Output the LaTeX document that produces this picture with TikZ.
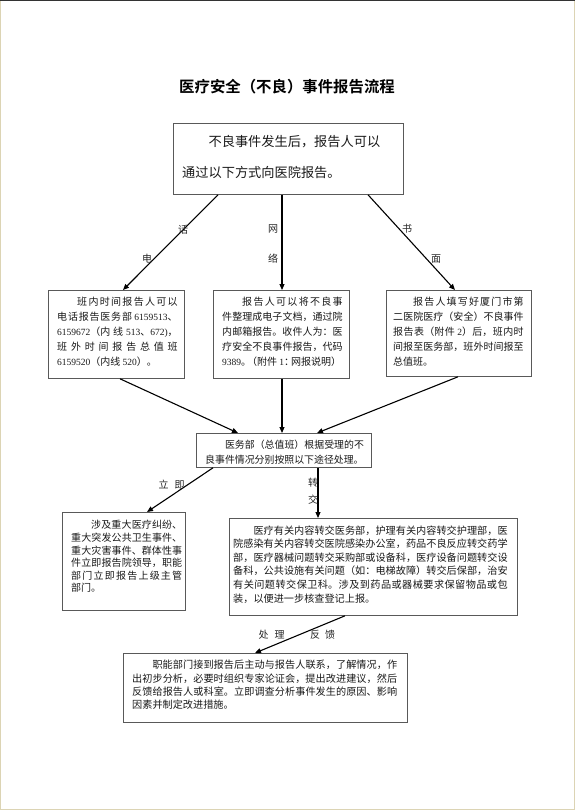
\documentclass[tikz,border=0pt]{standalone}
\usepackage{fontspec}
\setmainfont{Noto Sans CJK SC}[BoldFont={Noto Sans CJK SC Bold}]
\newfontfamily\lat{Liberation Serif}[Scale=0.95]
\XeTeXlinebreaklocale "zh"
\XeTeXlinebreakskip=0pt plus 5pt minus 0.3pt
\usetikzlibrary{arrows.meta,calc}
\newcommand{\nm}[1]{{\lat #1}}
\setlength{\parindent}{0pt}
\tolerance=10000
\hbadness=10000
\definecolor{pageframe}{RGB}{220,212,180}
\tikzset{
  box/.style={draw=black!65, line width=0.8pt, inner sep=0pt, anchor=north west},
  txt/.style={inner sep=0pt, anchor=north west, align=justify, text=black!90},
  arr/.style={line width=1.1pt, -{Triangle[length=6pt,width=5pt]}},
  lbl/.style={inner sep=0pt, font=\fontsize{10}{10}\selectfont, text=black!85},
}
\begin{document}
\begin{tikzpicture}[x=1pt,y=-1pt]
\useasboundingbox (0,0) rectangle (575,810);
\fill[white] (0,0) rectangle (575,810);
\draw[pageframe, line width=1pt] (0.5,0.5) rectangle (574.5,809.5);
\draw[black!80, line width=1pt] (0,1) -- (575,1);

\node[font=\fontsize{15.4}{16}\selectfont\bfseries] (title) at (287,87) {医疗安全（不良）事件报告流程};

% boxes
\node[box, minimum width=230pt, minimum height=71pt] (b1) at (173,123) {};
\node[box, minimum width=136pt, minimum height=88pt] (b2) at (48,290) {};
\node[box, minimum width=136pt, minimum height=88pt] (b3) at (213,290) {};
\node[box, minimum width=145pt, minimum height=86pt] (b4) at (386,290) {};
\node[box, minimum width=175pt, minimum height=34pt] (b5) at (196,433) {};
\node[box, minimum width=123pt, minimum height=98pt] (b6) at (62,512) {};
\node[box, minimum width=288pt, minimum height=97pt] (b7) at (229,518) {};
\node[box, minimum width=284pt, minimum height=69pt] (b8) at (123,653) {};

% texts
\node[txt, align=left, text width=220pt, font=\fontsize{13.2}{31}\selectfont] (t1) at (182,134.8)
  {\hspace*{2em}不良事件发生后，报告人可以\\通过以下方式向医院报告。};

\node[txt, text width=120.5pt, font=\fontsize{10}{15}\selectfont] (t2) at (57,297.3)
  {\hspace*{2em}班内时间报告人可以\linebreak 电话报告医务部 \nm{6159513}、\linebreak \nm{6159672}（内线 \nm{513}、\nm{672)}，\linebreak 班外时间报告总值班\linebreak \mbox{\nm{6159520}（内线 \nm{520}）。}};

\node[txt, text width=120.5pt, font=\fontsize{10}{15}\selectfont] (t3) at (222,297.3)
  {\hspace*{2em}报告人可以将不良事\linebreak 件整理成电子文档，通过院\linebreak 内邮箱报告。收件人为：医\linebreak 疗安全不良事件报告，代码\linebreak \mbox{\nm{9389}。\kern-4pt（附件 \nm{1}：\kern-3pt网报说明）}};

\node[txt, text width=130.5pt, font=\fontsize{10}{15}\selectfont] (t4) at (393,297.3)
  {\hspace*{2em}报告人填写好厦门市第\linebreak 二医院医疗（安全）不良事件\linebreak 报告表（附件 \nm{2}）后，班内时\linebreak 间报至医务部，班外时间报至\linebreak 总值班。};

\node[txt, text width=158.8pt, font=\fontsize{9.9}{15}\selectfont] (t5) at (205,440.3)
  {\hspace*{2em}医务部（总值班）根据受理的不\linebreak 良事件情况分别按照以下途径处理。};

\node[txt, text width=111pt, font=\fontsize{10}{12.6}\selectfont] (t6) at (71,520.3)
  {\hspace*{2em}涉及重大医疗纠纷、\linebreak 重大突发公共卫生事件、\linebreak 重大灾害事件、群体性事\linebreak 件立即报告院领导，职能\linebreak 部门立即报告上级主管\linebreak 部门。};

\node[txt, text width=274.5pt, font=\fontsize{10.15}{13.6}\selectfont] (t7) at (233,525.3)
  {\hspace*{2em}医疗有关内容转交医务部，护理有关内容转交护理部，医\linebreak 院感染有关内容转交医院感染办公室，药品不良反应转交药学\linebreak 部，医疗器械问题转交采购部或设备科，医疗设备问题转交设\linebreak 备科，公共设施有关问题（如：电梯故障）转交后保部，治安\linebreak 有关问题转交保卫科。涉及到药品或器械要求保留物品或包\linebreak 装，以便进一步核查登记上报。};

\node[txt, text width=265pt, font=\fontsize{10.15}{13.3}\selectfont] (t8) at (132,660.2)
  {\hspace*{2em}职能部门接到报告后主动与报告人联系，了解情况，作\linebreak 出初步分析，必要时组织专家论证会，提出改进建议，然后\linebreak 反馈给报告人或科室。立即调查分析事件发生的原因、影响\linebreak 因素并制定改进措施。};

% connectors
\draw[arr] ([xshift=45pt]b1.south west) -- ([xshift=75pt]b2.north west);
\draw[arr] ([xshift=109pt]b1.south west) -- ([xshift=69pt]b3.north west);
\draw[arr] ([xshift=195pt]b1.south west) -- ([xshift=69pt]b4.north west);
\draw[arr] ([xshift=72pt]b2.south west) -- ([xshift=42pt]b5.north west);
\draw[arr] ([xshift=69pt]b3.south west) -- ([xshift=86pt]b5.north west);
\draw[arr] ([xshift=72pt]b4.south west) -- ([xshift=121pt]b5.north west);
\draw[arr] ([xshift=17pt]b5.south west) -- ([xshift=85pt]b6.north west);
\draw[arr] ([xshift=122pt]b5.south west) -- ([xshift=89pt]b7.north west);
\draw[arr] ([xshift=116pt]b7.south west) -- ([xshift=132pt]b8.north west);

% labels
\node[lbl] (l1) at (183,230) {话};
\node[lbl] (l2) at (147,259) {电};
\node[lbl] (l3) at (273,229) {网};
\node[lbl] (l4) at (273,259) {络};
\node[lbl] (l5) at (407,229) {书};
\node[lbl] (l6) at (436,259) {面};
\node[lbl] (l7) at (171.5,485) {立\hspace{6pt}即};
\node[lbl] (l8) at (313,483) {转};
\node[lbl] (l9) at (313,500) {交};
\node[lbl] (l10) at (271.5,635) {处\hspace{6pt}理};
\node[lbl] (l11) at (322.5,635) {反\hspace{5pt}馈};
\end{tikzpicture}
\end{document}
